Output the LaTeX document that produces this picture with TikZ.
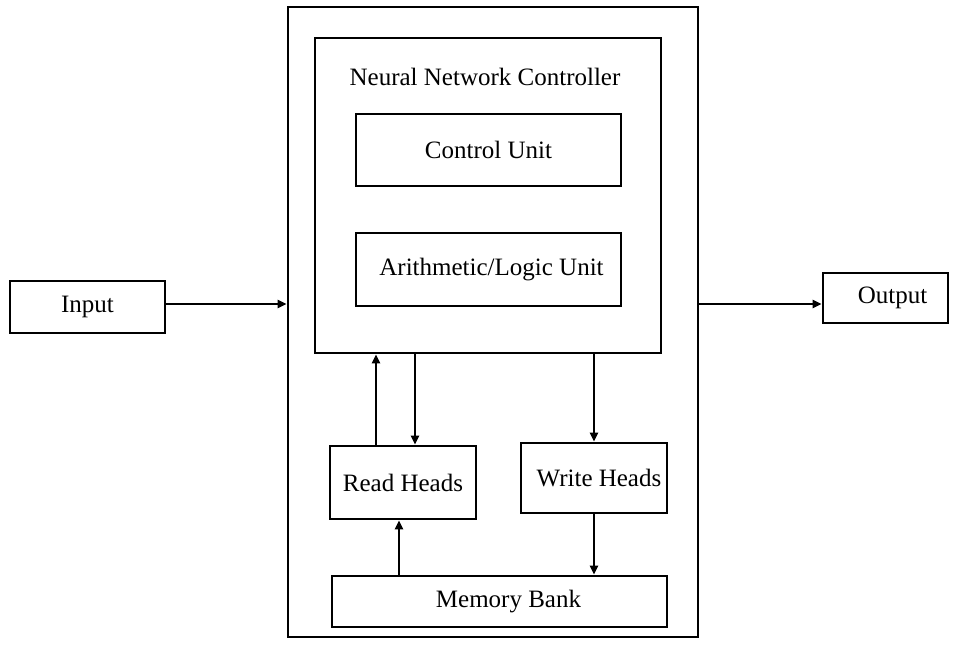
\documentclass[tikz,border=0pt]{standalone}
\usepackage{fontspec}
\setmainfont{Liberation Serif}
\usetikzlibrary{positioning,arrows.meta}
\tikzset{
  box/.style={draw, line width=2.8pt, align=center, inner sep=0pt, font=\fontsize{25}{30}\selectfont},
  arr/.style={-{Triangle[length=9pt, width=8pt]}, line width=2.2pt},
  lab/.style={font=\fontsize{25}{30}\selectfont, inner sep=0pt}
}

\begin{document}
\begin{tikzpicture}[x=1pt, y=-1pt]
\useasboundingbox (0,0) rectangle (955,646);
\node[box, minimum width=410pt, minimum height=630pt] (ntm) at (493,322) {};
\node[box, minimum width=346pt, minimum height=315pt] (ctrl) at (488,195.5) {};
\node[lab] (ctrltitle) at (485,77) {Neural Network Controller};
\node[box, minimum width=265pt, minimum height=72pt] (cu) at (488.5,150) {Control Unit};
\node[box, minimum width=265pt, minimum height=73pt] (alu) at (488.5,269.5) {\hspace*{6pt}Arithmetic/Logic Unit};
\node[box, minimum width=146pt, minimum height=73pt] (read) at (403,482.5) {Read Heads};
\node[box, minimum width=146pt, minimum height=70pt] (write) at (594,478) {\hspace*{10pt}Write Heads};
\node[box, minimum width=335pt, minimum height=51pt] (mem) at (499.5,601.5) {\hspace*{18pt}Memory Bank};
\node[box, minimum width=155pt, minimum height=52pt] (input) at (87.5,307) {Input};
\node[box, minimum width=125pt, minimum height=50pt] (output) at (885.5,298) {\hspace*{14pt}Output};
\coordinate (io) at (0,304);
% input / output
\draw[arr] (input.east |- io) -- (ntm.west |- io);
\draw[arr] (ntm.east |- io) -- (output.west |- io);
% heads and controller
\draw[arr] ([xshift=-27pt]read.north) -- ([xshift=-27pt]read.north |- ctrl.south);
\draw[arr] ([xshift=12pt]read.north |- ctrl.south) -- ([xshift=12pt]read.north);
\draw[arr] (write.north |- ctrl.south) -- (write.north);
% memory
\draw[arr] (write.south) -- (write.south |- mem.north);
\draw[arr] ([xshift=-4pt]read.south |- mem.north) -- ([xshift=-4pt]read.south);
\end{tikzpicture}
\end{document}
